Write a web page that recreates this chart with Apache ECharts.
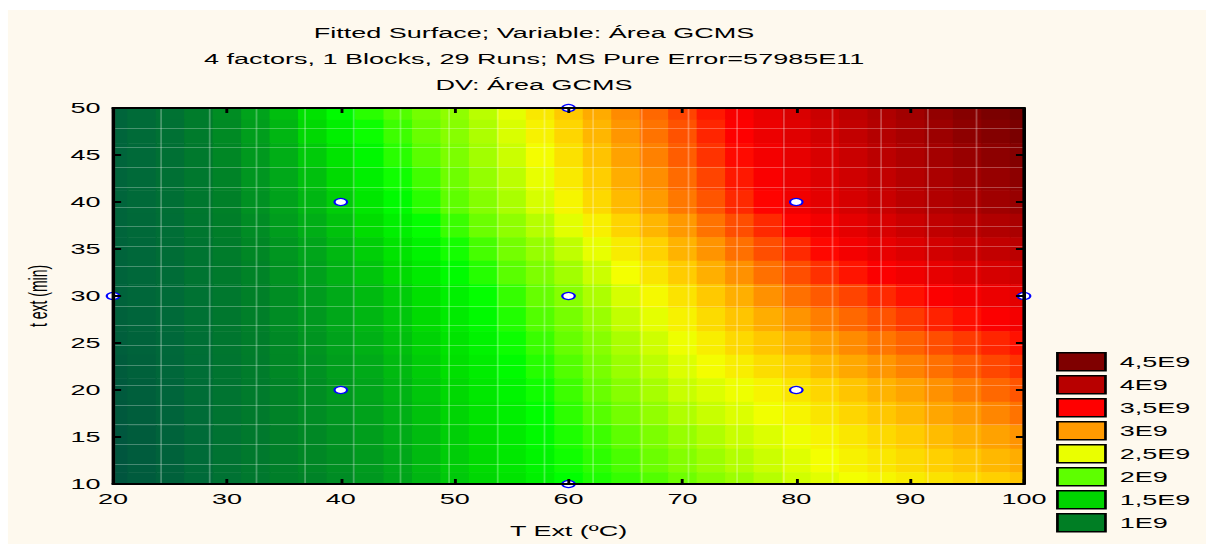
<!DOCTYPE html>
<html>
<head>
<meta charset="utf-8">
<script src="https://cdn.jsdelivr.net/npm/echarts@6.0.0/dist/echarts.min.js"></script>
<style>
html,body{margin:0;padding:0;background:#ffffff;overflow:hidden;width:1206px;height:544px}
#chart{width:670px;height:544px;transform:scaleX(1.8);transform-origin:0 0}
</style>
</head>
<body>
<div id="chart"></div>
<script>
// ---------- texts ----------
const titleLines = [
  'Fitted Surface; Variable: Área GCMS',
  '4 factors, 1 Blocks, 29 Runs; MS Pure Error=57985E11',
  'DV: Área GCMS'
];
const xAxisName = 'T Ext (ºC)';
const yAxisName = 't ext (min)';

// ---------- axes ----------
const xTicks = [20, 30, 40, 50, 60, 70, 80, 90, 100];
const yTicks = [10, 15, 20, 25, 30, 35, 40, 45, 50];

// ---------- fitted surface (values in units of 1E9) ----------
const gridT = [20,22.5,25,27.5,30,32.5,35,37.5,40,42.5,45,47.5,50,52.5,55,57.5,60,62.5,65,67.5,70,72.5,75,77.5,80,82.5,85,87.5,90,92.5,95,97.5,100];
const gridTime = [50,47.5,45,42.5,40,37.5,35,32.5,30,27.5,25,22.5,20,17.5,15,12.5,10];

const row50   = [0.72,0.78,0.85,0.96,1.08,1.21,1.35,1.54,1.72,1.85,1.95,2.05,2.15,2.30,2.45,2.62,2.78,2.92,3.05,3.18,3.30,3.43,3.55,3.67,3.78,3.89,4.00,4.11,4.22,4.34,4.45,4.55,4.65];
const row47_5 = [0.72,0.78,0.84,0.95,1.06,1.18,1.31,1.48,1.64,1.78,1.90,2.01,2.12,2.26,2.41,2.57,2.72,2.87,3.01,3.14,3.26,3.39,3.51,3.63,3.73,3.84,3.95,4.06,4.16,4.27,4.38,4.47,4.56];
const row45   = [0.72,0.77,0.83,0.93,1.04,1.15,1.27,1.41,1.55,1.70,1.85,1.97,2.08,2.22,2.36,2.51,2.66,2.81,2.96,3.09,3.22,3.35,3.47,3.58,3.68,3.79,3.90,4.00,4.10,4.20,4.30,4.39,4.47];
const row42_5 = [0.72,0.77,0.83,0.92,1.02,1.13,1.24,1.36,1.49,1.64,1.79,1.91,2.03,2.17,2.31,2.46,2.61,2.76,2.91,3.04,3.17,3.30,3.43,3.54,3.64,3.75,3.85,3.95,4.05,4.14,4.23,4.31,4.39];
const row40   = [0.72,0.77,0.82,0.91,1.00,1.10,1.20,1.31,1.42,1.57,1.72,1.85,1.98,2.11,2.25,2.40,2.55,2.70,2.85,2.99,3.12,3.25,3.38,3.49,3.60,3.70,3.80,3.90,4.00,4.08,4.15,4.23,4.30];
const row37_5 = [0.72,0.76,0.81,0.90,0.98,1.07,1.17,1.27,1.37,1.50,1.64,1.76,1.89,2.02,2.15,2.29,2.44,2.58,2.73,2.87,3.00,3.14,3.27,3.38,3.49,3.59,3.69,3.79,3.88,3.96,4.03,4.09,4.15];
const row35   = [0.71,0.75,0.80,0.88,0.96,1.04,1.13,1.22,1.32,1.43,1.55,1.67,1.80,1.92,2.05,2.18,2.32,2.46,2.60,2.74,2.88,3.02,3.15,3.27,3.38,3.48,3.58,3.67,3.75,3.83,3.90,3.95,4.00];
const row32_5 = [0.71,0.75,0.79,0.87,0.94,1.02,1.11,1.19,1.29,1.38,1.49,1.60,1.73,1.84,1.97,2.09,2.22,2.36,2.50,2.64,2.77,2.90,3.03,3.15,3.27,3.36,3.44,3.53,3.60,3.68,3.74,3.80,3.85];
const row30   = [0.70,0.74,0.78,0.85,0.92,1.00,1.08,1.16,1.25,1.33,1.42,1.53,1.65,1.76,1.88,2.00,2.12,2.26,2.40,2.53,2.65,2.78,2.90,3.03,3.15,3.23,3.30,3.38,3.45,3.52,3.58,3.64,3.70];
const row27_5 = [0.68,0.72,0.77,0.84,0.91,0.99,1.07,1.14,1.23,1.31,1.39,1.49,1.60,1.71,1.83,1.95,2.06,2.19,2.33,2.45,2.57,2.69,2.80,2.91,3.02,3.10,3.18,3.26,3.33,3.40,3.46,3.52,3.58];
const row25   = [0.66,0.70,0.75,0.82,0.90,0.97,1.05,1.12,1.20,1.28,1.36,1.45,1.55,1.66,1.78,1.89,2.00,2.12,2.25,2.37,2.48,2.59,2.70,2.79,2.88,2.97,3.05,3.13,3.20,3.27,3.33,3.39,3.45];
const row22_5 = [0.63,0.68,0.74,0.81,0.89,0.96,1.04,1.10,1.18,1.25,1.33,1.42,1.52,1.62,1.73,1.84,1.95,2.07,2.19,2.31,2.42,2.51,2.59,2.68,2.76,2.85,2.93,3.01,3.08,3.15,3.22,3.29,3.35];
const row20   = [0.60,0.66,0.72,0.80,0.87,0.95,1.02,1.08,1.15,1.22,1.30,1.39,1.48,1.58,1.68,1.79,1.90,2.01,2.12,2.24,2.35,2.42,2.48,2.56,2.64,2.72,2.80,2.88,2.95,3.03,3.10,3.18,3.25];
const row17_5 = [0.59,0.65,0.71,0.79,0.87,0.94,1.01,1.07,1.13,1.20,1.28,1.37,1.46,1.55,1.64,1.75,1.86,1.96,2.05,2.16,2.27,2.35,2.42,2.49,2.56,2.64,2.72,2.79,2.86,2.94,3.00,3.07,3.14];
const row15   = [0.57,0.63,0.70,0.78,0.86,0.93,1.00,1.05,1.11,1.18,1.26,1.34,1.43,1.51,1.60,1.71,1.82,1.90,1.98,2.08,2.18,2.27,2.35,2.42,2.48,2.56,2.63,2.70,2.77,2.84,2.90,2.96,3.02];
const row12_5 = [0.56,0.62,0.69,0.78,0.86,0.93,0.99,1.04,1.09,1.16,1.24,1.33,1.42,1.49,1.58,1.68,1.79,1.86,1.93,2.02,2.11,2.20,2.28,2.36,2.43,2.50,2.57,2.63,2.69,2.75,2.80,2.86,2.91];
const row10   = [0.55,0.61,0.68,0.77,0.85,0.92,0.98,1.02,1.07,1.14,1.22,1.31,1.40,1.47,1.55,1.65,1.75,1.82,1.88,1.95,2.03,2.12,2.20,2.29,2.38,2.44,2.50,2.55,2.60,2.65,2.70,2.75,2.80];
const surfaceRows = [row50,row47_5,row45,row42_5,row40,row37_5,row35,row32_5,row30,row27_5,row25,row22_5,row20,row17_5,row15,row12_5,row10];

// ---------- design points ----------
const designT    = [20, 40, 40, 60, 60, 60, 80, 80, 100];
const designTime = [30, 20, 40, 10, 30, 50, 20, 40, 30];

// ---------- colour scale / legend ----------
const scaleMin = 0.5, scaleMax = 4.75;
const scaleColors = ['#00503F','#00683A','#008028','#00AA18','#00DD00','#00FF00','#66FF00','#AAFF00',
                     '#F4FF00','#FFD000','#FF9900','#FF5500','#FF0000','#DD0000','#BB0000','#9E0000','#800000','#680000'];
const legendLabels = ['4,5E9','4E9','3,5E9','3E9','2,5E9','2E9','1,5E9','1E9'];
const legendColors = ['#7F0000','#B80000','#FF0000','#FF9A00','#EAFF00','#5EFF00','#00D400','#007E24'];

// ---------- build ----------
const FONT = '"Liberation Sans", Arial, sans-serif';
const surfaceData = [];
surfaceRows.forEach((row, r) => row.forEach((v, c) => surfaceData.push([gridT[c], gridTime[r], v])));
const designData = designT.map((t, i) => [t, designTime[i]]);

const xMin = xTicks[0], xMax = xTicks[xTicks.length - 1], xStep = xTicks[1] - xTicks[0];
const yMin = yTicks[0], yMax = yTicks[yTicks.length - 1], yStep = yTicks[1] - yTicks[0];
const halfW = (gridT[1] - gridT[0]) / 2;
const halfH = (gridTime[0] - gridTime[1]) / 2;

function renderCell(params, api) {
  const x = api.value(0), y = api.value(1);
  const x0 = Math.max(xMin, x - halfW), x1 = Math.min(xMax, x + halfW);
  const y0 = Math.max(yMin, y - halfH), y1 = Math.min(yMax, y + halfH);
  const p0 = api.coord([x0, y1]);
  const p1 = api.coord([x1, y0]);
  return {
    type: 'rect',
    shape: { x: p0[0], y: p0[1], width: p1[0] - p0[0] + 0.6, height: p1[1] - p0[1] + 0.6 },
    style: { fill: api.visual('color'), stroke: null }
  };
}

const axisLineStyle = { color: '#000', width: 2 };
const labelStyle = { color: '#000', fontSize: 15, fontFamily: FONT };

const chart = echarts.init(document.getElementById('chart'), null, { renderer: 'svg' });
const option = {
  animation: false,
  backgroundColor: '#ffffff',
  graphic: [{
    type: 'rect', left: 4.4, top: 10, z: -100,
    shape: { width: 666, height: 534 },
    style: { fill: '#FEF9EE' }
  }],
  title: {
    text: titleLines.join('\n'),
    left: 296.7, top: 20, textAlign: 'center', padding: 0,
    textStyle: { fontSize: 15, fontWeight: 'normal', color: '#000', lineHeight: 26, fontFamily: FONT }
  },
  grid: { left: 62.8, right: 101.1, top: 108, bottom: 60 },
  visualMap: {
    type: 'continuous', show: false, seriesIndex: 0, dimension: 2,
    min: scaleMin, max: scaleMax, inRange: { color: scaleColors }
  },
  legend: {
    orient: 'vertical', left: 586.7, top: 352, padding: 0,
    itemWidth: 26.7, itemHeight: 18, itemGap: 3.5, icon: 'rect',
    selectedMode: false,
    itemStyle: { borderColor: '#000', borderWidth: 1.5, opacity: 1 },
    textStyle: { fontSize: 15, color: '#000', fontFamily: FONT, padding: [0, 0, 0, 3] },
    data: legendLabels
  },
  xAxis: [
    {
      type: 'value', position: 'bottom', min: xMin, max: xMax, interval: xStep, z: 10,
      axisLine: { lineStyle: axisLineStyle },
      axisTick: { inside: true, length: 5, lineStyle: { color: '#000', width: 1.6 } },
      axisLabel: Object.assign({ margin: 7 }, labelStyle),
      splitLine: { show: false },
      name: xAxisName, nameLocation: 'middle', nameGap: 39,
      nameTextStyle: { fontSize: 15, color: '#000', fontFamily: FONT }
    },
    {
      type: 'value', position: 'top', min: xMin, max: xMax, interval: xStep, z: 10,
      axisLine: { lineStyle: axisLineStyle },
      axisTick: { inside: true, length: 5, lineStyle: { color: '#000', width: 1.6 } },
      axisLabel: { show: false }, splitLine: { show: false }
    },
    {
      type: 'value', min: 0, max: 19, interval: 1, z: 3,
      axisLine: { show: false }, axisTick: { show: false }, axisLabel: { show: false },
      splitLine: { show: true, lineStyle: { color: 'rgba(255,255,255,0.28)', width: 1 } }
    }
  ],
  yAxis: [
    {
      type: 'value', position: 'left', min: yMin, max: yMax, interval: yStep, z: 10,
      axisLine: { lineStyle: axisLineStyle },
      axisTick: { inside: true, length: 4.5, lineStyle: { color: '#000', width: 2 } },
      axisLabel: Object.assign({ margin: 7 }, labelStyle),
      splitLine: { show: false },
      name: yAxisName, nameLocation: 'middle', nameGap: 32,
      nameTextStyle: { fontSize: 14, color: '#000', fontFamily: FONT }
    },
    {
      type: 'value', position: 'right', min: yMin, max: yMax, interval: yStep, z: 10,
      axisLine: { lineStyle: axisLineStyle },
      axisTick: { inside: true, length: 4.5, lineStyle: { color: '#000', width: 2 } },
      axisLabel: { show: false }, splitLine: { show: false }
    },
    {
      type: 'value', min: 0, max: 19, interval: 1, z: 3,
      axisLine: { show: false }, axisTick: { show: false }, axisLabel: { show: false },
      splitLine: { show: true, lineStyle: { color: 'rgba(255,255,255,0.28)', width: 1 } }
    }
  ],
  series: [
    {
      type: 'custom', name: 'surface', xAxisIndex: 0, yAxisIndex: 0, z: 2,
      renderItem: renderCell, encode: { x: 0, y: 1 }, data: surfaceData, silent: true
    },
    {
      type: 'scatter', name: 'design', xAxisIndex: 0, yAxisIndex: 0, z: 5, clip: false,
      symbol: 'circle', symbolSize: 7,
      itemStyle: { color: '#ffffff', borderColor: '#0000FF', borderWidth: 1.2, opacity: 1 },
      data: designData
    }
  ].concat(legendLabels.map((name, i) => ({
    type: 'scatter', name: name, data: [], itemStyle: { color: legendColors[i], opacity: 1 }
  })))
};
chart.setOption(option);
</script>
</body>
</html>
